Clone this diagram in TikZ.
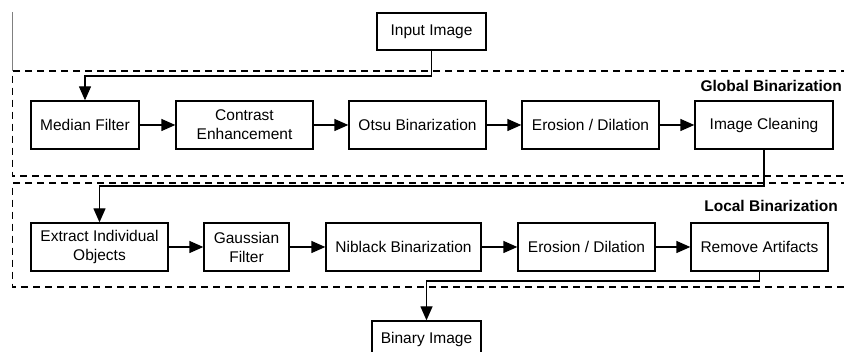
\documentclass[tikz,border=0pt]{standalone}
\usepackage{fontspec}
\setmainfont{Liberation Sans}
\usetikzlibrary{arrows.meta,positioning}
\tikzset{b/.style={draw,line width=1.3pt,minimum height=48pt,inner sep=2pt,align=center},
 flow/.style={-{Triangle[length=14pt,width=12pt]},line width=1.3pt},
 grp/.style={line width=1.3pt,dash pattern=on 7pt off 5pt},
 ttl/.style={anchor=east,font=\fontsize{15.5}{19}\selectfont\bfseries,inner sep=0pt}}

\begin{document}
\begin{tikzpicture}[x=1pt,y=-1pt,font=\fontsize{15.5}{19}\selectfont]
\useasboundingbox (0,0) rectangle (844,352);
% group frames
\draw[gray,line width=1pt] (12.7,12)--(12.7,71);
\draw[grp] (860,71)--(12.7,71)--(12.7,176)--(860,176);
\draw[grp] (860,183)--(12.7,183)--(12.7,287)--(860,287);
\node[ttl] (tg) at (842,86){Global Binarization};
\node[ttl] (tl) at (838,206){Local Binarization};
% in / out
\node[b,minimum width=109pt,minimum height=37pt] (in) at (431.5,31.5){Input Image};
\node[b,minimum width=109pt,minimum height=37pt] (out) at (426.5,339.5){Binary Image};
% global row
\node[b,minimum width=108pt] (med) at (85,125){Median Filter};
\node[b,minimum width=137pt] (con) at (244.5,125){Contrast\\Enhancement};
\node[b,minimum width=137pt] (otsu) at (417.5,125){Otsu Binarization};
\node[b,minimum width=137pt] (ed1) at (590.5,125){Erosion / Dilation};
\node[b,minimum width=138pt] (cln) at (764,125){Image Cleaning};
% local row
\node[b,minimum width=137pt] (ext) at (99.5,247){Extract Individual\\Objects};
\node[b,minimum width=85pt] (gau) at (246.5,247){Gaussian\\Filter};
\node[b,minimum width=155pt] (nib) at (403.5,247){Niblack Binarization};
\node[b,minimum width=137pt] (ed2) at (586.5,247){Erosion / Dilation};
\node[b,minimum width=137pt] (rem) at (759.5,247){Remove Artifacts};
\foreach \s/\t in {med/con,con/otsu,otsu/ed1,ed1/cln,ext/gau,gau/nib,nib/ed2,ed2/rem}
 \draw[flow] (\s)--(\t);
\coordinate (k1) at (85,76);\coordinate (k2) at (99.5,186);\coordinate (k3) at (426.5,281);
\draw[flow] (in.south)|-(k1)--(med.north);
\draw[flow] (cln.south)|-(k2)--(ext.north);
\draw[flow] (rem.south)|-(k3)--(out.north);
\end{tikzpicture}
\end{document}
